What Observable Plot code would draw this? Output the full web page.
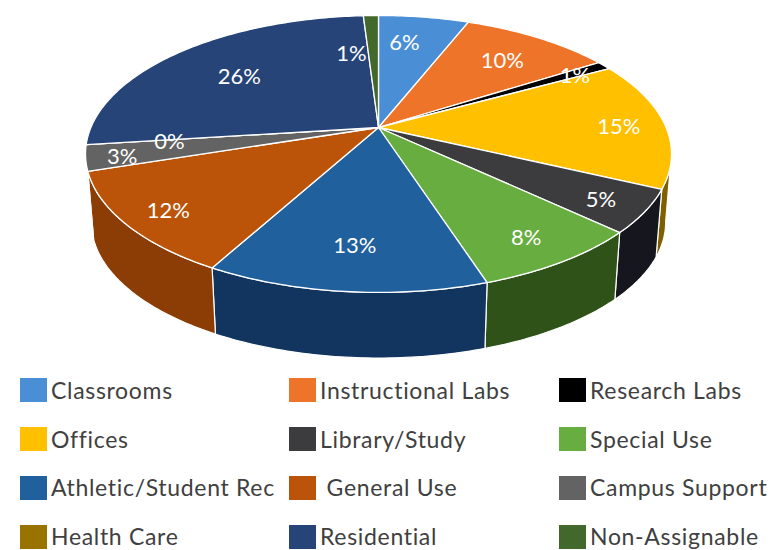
<!DOCTYPE html>
<html>
<head>
<meta charset="utf-8">
<script src="https://cdn.jsdelivr.net/npm/d3@7"></script>
<script src="https://cdn.jsdelivr.net/npm/@observablehq/plot@0.6"></script>
<style>
  html, body { margin: 0; padding: 0; background: #fff; overflow: hidden; }
  #page { width: 772px; height: 550px; overflow: hidden; position: relative; }
  #chart svg { display: block; }
  .legend { display: grid; grid-template-columns: 269px 270px 214px; grid-auto-rows: 48.8px;
            padding-left: 20px; margin-top: -6px;
            font: 23px/23px Lato, sans-serif; color: #404040; letter-spacing: 0.68px; }
  .item { display: flex; align-items: center; white-space: pre; }
  .swatch { width: 27px; height: 24px; margin-right: 4px; flex: none; }
</style>
</head>
<body>
<div id="page"><div id="chart"></div><div class="legend" id="legend"></div></div>
<script>
const categories = ["Classrooms", "Instructional Labs", "Research Labs", "Offices", "Library/Study", "Special Use",
  "Athletic/Student Rec", "General Use", "Campus Support", "Health Care", "Residential", "Non-Assignable"];
const shares = [6, 10, 1, 15, 5, 8, 13, 12, 3, 0, 26, 1];
const topColors = ["#4a8fd6", "#ed7428", "#000000", "#ffc000", "#3c3c3f", "#68ad3f",
  "#20609c", "#bb5408", "#636363", "#997300", "#264478", "#43682b"];
const sideColors = ["#2f5f8f", "#8f4a17", "#000000", "#7f6000", "#16161f", "#2f5218",
  "#12355f", "#8c3d06", "#3f3f3f", "#6b5000", "#182c50", "#2a4019"];
const legendLabels = categories.map((c) => c === "General Use" ? " General Use" : c);

// How far out along the slice each percentage label sits, and a small shift around the pie.
const labelRadius = [0.75, 0.75, 0.86, 0.84, 0.85, 0.83, 0.75, 0.85, 0.88, 0.72, 0.68, 0.65];
const labelShift = [-0.8, 0, 0, 0, 0, 0, 0, 0, 0, 0, 0, -2.1];

// Perspective of the tilted disc: the far rim shrinks, the near rim grows.
const tilt = 0.191;
const thickness = 0.517;
const lowerScale = 0.98;
const radiusX = 287.6, radiusY = 133.4, apexX = 378, apexY = 127;

function project(pct, r = 1) {
  const t = 2 * Math.PI * pct / 100;
  const X = r * Math.sin(t), Y = r * Math.cos(t), w = 1 + tilt * Y;
  return {u: X / w, v: Y / w};
}
const lower = ({u, v}) => ({u: u * lowerScale, v: v * lowerScale - thickness});

function arc(from, to) {
  const n = Math.max(1, Math.ceil((to - from) / 0.25));
  return d3.range(n + 1).map((i) => project(from + (to - from) * i / n));
}

const ends = d3.cumsum(shares);
const slices = categories.map((name, i) => ({name, i, start: ends[i] - shares[i], end: ends[i]}));

// Top faces: apex, rim, back to the apex.
const topPoints = slices.flatMap(({name, start, end}) =>
  [project(0, 0), ...arc(start, end), project(0, 0)].map((p) => ({...p, name, paint: topColors[categories.indexOf(name)]})));

// Walls exist only along the front of the disc, where it turns towards the viewer.
const wallFrom = 28, wallTo = 72;
const wallPoints = slices.filter((s) => s.end > wallFrom && s.start < wallTo && s.end > s.start).flatMap(({name, start, end}) => {
  const rim = arc(Math.max(start, wallFrom), Math.min(end, wallTo));
  return [...rim, ...rim.slice().reverse().map(lower), rim[0]].map((p) => ({...p, name, paint: sideColors[categories.indexOf(name)]}));
});

const labels = slices.map((s, i) => ({
  ...project((s.start + s.end) / 2 + labelShift[i], labelRadius[i]),
  text: `${shares[i]}%`
}));

const chart = Plot.plot({
  width: 772,
  height: 372,
  margin: 0,
  x: {axis: null, domain: [-1, 1], range: [apexX - radiusX, apexX + radiusX]},
  y: {axis: null, domain: [-1, 1], range: [apexY + radiusY, apexY - radiusY]},
  color: {type: "identity"},
  marks: [
    Plot.line(wallPoints, {x: "u", y: "v", z: "name", fill: "paint", stroke: "#fff", strokeWidth: 1.2, strokeLinejoin: "round"}),
    Plot.line(topPoints, {x: "u", y: "v", z: "name", fill: "paint", stroke: "#fff", strokeWidth: 1.3, strokeLinejoin: "round"}),
    Plot.text(labels, {x: "u", y: "v", dy: 2.5, text: "text", fill: "#fff", fontSize: 22, fontFamily: "Lato, sans-serif"})
  ]
});
document.getElementById("chart").append(chart);

// Three-column key below the chart.
const legend = d3.select("#legend");
categories.forEach((name, i) => {
  const item = legend.append("div").attr("class", "item");
  item.append("span").attr("class", "swatch").style("background", topColors[i]);
  item.append("span").text(legendLabels[i]);
});
</script>
</body>
</html>
